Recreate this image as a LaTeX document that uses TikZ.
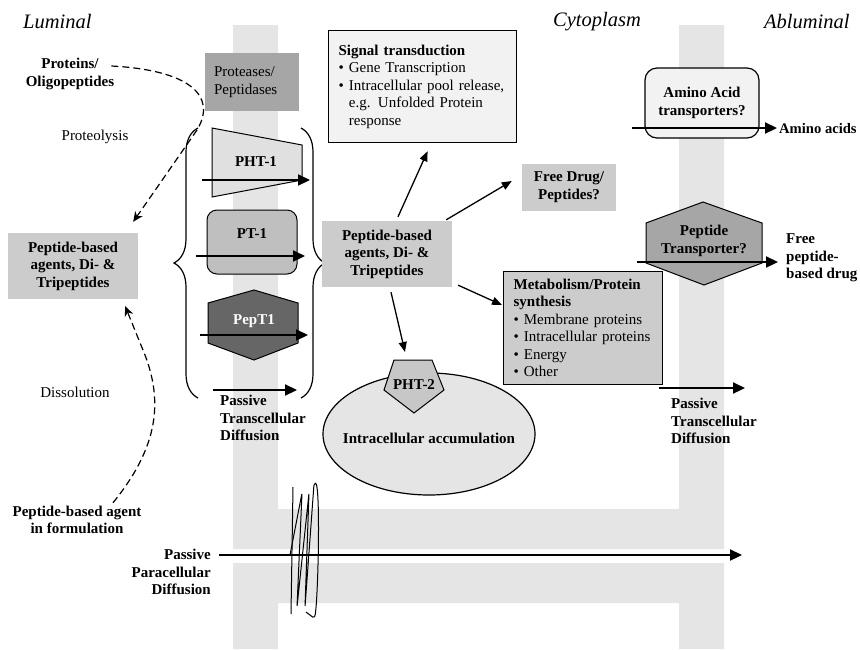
\documentclass[tikz,border=0pt]{standalone}
\usepackage{fontspec}
\setmainfont{Liberation Serif}
\usepackage{tikz}
\usetikzlibrary{arrows.meta, positioning, shapes.geometric, decorations.pathreplacing}

\begin{document}
\begin{tikzpicture}[x=1pt, y=-1pt,
    every node/.style={inner sep=0pt, font=\fontsize{15}{17.5}\selectfont},
    region/.style={font=\fontsize{20.5}{24}\selectfont\itshape},
    lbl/.style={font=\fontsize{15}{17.5}\selectfont\bfseries, align=center},
    membrane/.style={fill=black!10},
    box/.style={fill=black!20, minimum width=130pt, minimum height=66pt},
    infobox/.style={draw, line width=1.2pt, align=left, inner xsep=10pt, anchor=north west},
    carrier/.style={draw, line width=1pt},
    flow/.style={line width=2.2pt, -{Triangle[length=12pt,width=11pt]}},
    link/.style={line width=1.3pt, -{Triangle[length=10pt,width=8pt]}},
    route/.style={line width=1.2pt, dash pattern=on 7pt off 4pt, -{Stealth[length=10pt,width=9pt]}}]

  \useasboundingbox (0,0) rectangle (860,649);

  % membranes of the two cells
  \fill[membrane] (233,25) -- (278,25) -- (278,509) -- (679,509) -- (679,25) -- (724,25) -- (724,549) -- (233,549) -- cycle;
  \fill[membrane] (233,649) -- (233,563) -- (724,563) -- (724,649) -- (679,649) -- (679,603) -- (278,603) -- (278,649) -- cycle;

  \node[region, anchor=west] (lum) at (23,22) {Luminal};
  \node[region, anchor=west] (cyto) at (553,22) {Cytoplasm};
  \node[region, anchor=west] (ablum) at (764,22) {Abluminal};

  % luminal side
  \node[lbl] (prot) at (70,74) {Proteins/\\Oligopeptides};
  \node (lysis) at (95,137) {Proteolysis};
  \node[box, lbl] (lpep) at (73,266) {Peptide-based\\agents, Di- \&\\Tripeptides};
  \node (diss) at (75,392) {Dissolution};
  \node[lbl] (form) at (77,520) {Peptide-based agent\\in formulation};
  \node[lbl, align=right, anchor=east] (para) at (211,572) {Passive\\Paracellular\\Diffusion};

  \draw[route] ([xshift=-3pt,yshift=8pt]prot.east) .. controls (188,70) and (218,95) .. (197,130) -- ([xshift=-5pt,yshift=11pt]lpep.north east);
  \draw[route] ([xshift=36pt,yshift=3pt]form.north) .. controls (160,445) and (162,400) .. (145,355) -- ([xshift=-13pt,yshift=-7pt]lpep.south east);

  \node[fill=black!35, minimum width=94pt, minimum height=58pt, text width=76pt, inner xsep=9pt, align=left] (prote) at (252,82) {Proteases/\\Peptidases};

  % apical carriers
  \draw[carrier, fill=black!12] (212,128) -- (302,145) -- (302,180) -- (212,197) -- cycle;
  \node[lbl] (pht1) at (256,162) {PHT-1};
  \node[carrier, fill=black!25, rounded corners=10pt, minimum width=90pt, minimum height=64pt] (pt1) at (252,242) {};
  \node[lbl, below=19pt of pt1.north] (pt1lbl) {PT-1};
  \draw[carrier, fill=black!60] (208,303) -- (254,290) -- (298,303) -- (298,343) -- (254,360) -- (208,343) -- cycle;
  \node[lbl, text=white] (pept1) at (254,321) {PepT1};

  \coordinate (in1) at (202,180); \coordinate (out1) at (310,180);
  \coordinate (in2) at (196,256); \coordinate (out2) at (305,256);
  \coordinate (in3) at (200,335); \coordinate (out3) at (308,335);
  \coordinate (in4) at (213,390); \coordinate (out4) at (297,390);
  \draw[flow] (in1) -- (out1);
  \draw[flow] (in2) -- (out2);
  \draw[flow] (in3) -- (out3);
  \draw[flow] (in4) -- (out4);
  \node[lbl, align=left, anchor=west] (ptleft) at (220,418) {Passive\\Transcellular\\Diffusion};

  \draw[line width=1.2pt, decorate, decoration={brace, amplitude=24pt}] (198,398) -- (198,128);
  \draw[line width=1.2pt, decorate, decoration={brace, amplitude=24pt}] (301,128) -- (301,398);

  % cytoplasm
  \node[box, lbl] (mid) at (387,254) {Peptide-based\\agents, Di- \&\\Tripeptides};
  \node[infobox, fill=black!5, text width=168pt, minimum height=112pt] (sig) at (328,30) {\textbf{Signal transduction}\\
    \textbullet\ Gene Transcription\\
    \textbullet\ Intracellular pool release,\\
    \hphantom{\textbullet\ }e.g. Unfolded Protein\\
    \hphantom{\textbullet\ }response};
  \node[box, lbl, minimum width=94pt, minimum height=47pt] (free) at (569,187) {Free Drug/\\Peptides?};
  \node[infobox, fill=black!20, text width=139pt, minimum height=113pt] (meta) at (503,271) {\textbf{Metabolism/Protein}\\
    \textbf{synthesis}\\
    \textbullet\ Membrane proteins\\
    \textbullet\ Intracellular proteins\\
    \textbullet\ Energy\\
    \textbullet\ Other};

  \node[draw, ellipse, line width=1.2pt, fill=black!10, minimum width=212pt, minimum height=122pt] (accum) at (429,434) {};
  \node[lbl] (acctxt) at ([yshift=-4pt]accum.center) {Intracellular accumulation};
  \draw[carrier, fill=black!22] (394,360) -- (432,360) -- (444,390) -- (414,413) -- (384,390) -- cycle;
  \node[lbl] (pht2) at (414,385) {PHT-2};

  \draw[link] ([xshift=11pt,yshift=4pt]mid.north) -- ([xshift=5pt,yshift=-8pt]sig.south);
  \draw[link] ([xshift=-6pt,yshift=1pt]mid.north east) -- ([xshift=-10pt,yshift=6pt]free.west);
  \draw[link] ([xshift=6pt,yshift=2pt]mid.south east) -- ([xshift=-1pt,yshift=-34pt]meta.north west);
  \draw[link] ([xshift=4pt,yshift=-5pt]mid.south) -- ([xshift=-9pt,yshift=33pt]pht2.center);

  % basolateral side
  \node[draw, line width=1.2pt, fill=black!5, rounded corners=12pt, minimum width=114pt, minimum height=70pt, lbl] (aat) at (702,103) {Amino Acid\\transporters?};
  \draw[carrier, fill=black!35] (646,223) -- (703,202) -- (762,223) -- (762,263) -- (704,285) -- (646,263) -- cycle;
  \node[lbl] (ptr) at (704,241) {Peptide\\Transporter?};

  \coordinate (in5) at (632,128); \coordinate (out5) at (777,128);
  \coordinate (in6) at (637,262); \coordinate (out6) at (778,262);
  \coordinate (in7) at (659,388); \coordinate (out7) at (745,388);
  \draw[flow] (in5) -- (out5);
  \draw[flow] (in6) -- (out6);
  \draw[flow] (in7) -- (out7);
  \node[lbl, font=\fontsize{14.6}{17}\selectfont\bfseries, right=2pt of out5] (amino) {Amino acids};
  \node[lbl, align=left, anchor=west] (freepep) at (786,258) {Free\\peptide-\\based drug};
  \node[lbl, align=left, anchor=west] (ptright) at (671,421) {Passive\\Transcellular\\Diffusion};

  % paracellular route and tight junction
  \coordinate (in8) at (219,555); \coordinate (out8) at (742,555);
  \draw[flow] (in8) -- (out8);
  \draw[line width=1pt] (293,487) -- (291,614);
  \draw[line width=1pt, rounded corners=1.5pt] (290,555) -- (302,493) -- (297,607) -- (309,493) -- (305,607) -- (314,484) .. controls (321,480) and (318,610) .. (314,618) -- (306,612);
\end{tikzpicture}
\end{document}
